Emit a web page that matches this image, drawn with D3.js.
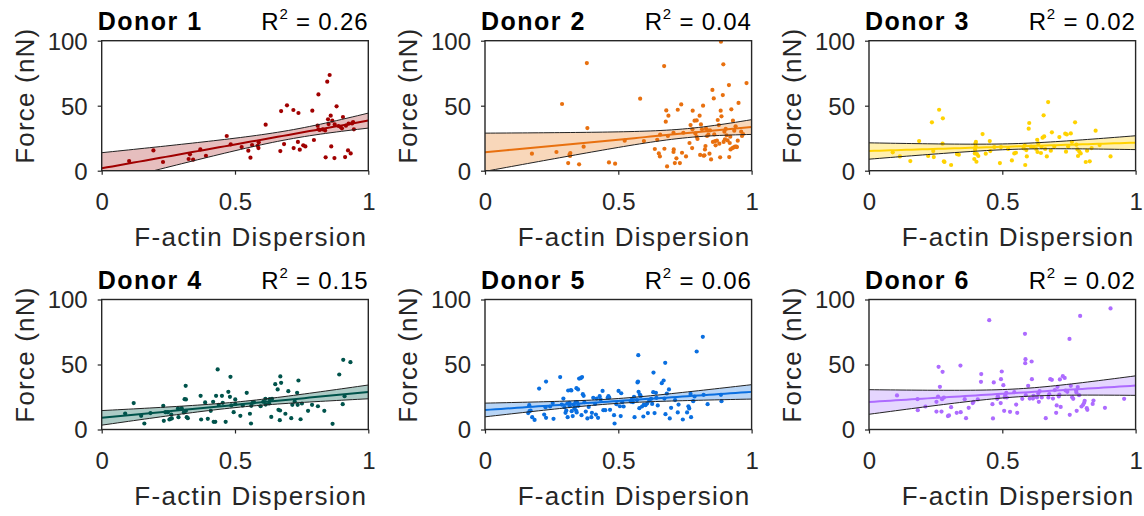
<!DOCTYPE html>
<html><head><meta charset="utf-8">
<script src="https://cdn.jsdelivr.net/npm/d3@7"></script>
<style>
body{margin:0;background:#fff}
svg{display:block}
text{font-family:"Liberation Sans",Arial,Helvetica,sans-serif}
</style>
</head><body>
<svg id="chart" width="1144" height="516"></svg>
<script>
// ---------------- data ----------------
const categories = ["Donor 1","Donor 2","Donor 3","Donor 4","Donor 5","Donor 6"];
const r2Labels = ["0.26","0.04","0.02","0.15","0.06","0.02"];
const xTicks = [0, 0.5, 1];
const xTickLabels = ["0","0.5","1"];
const yTicks = [0, 50, 100];
const yTickLabels = ["0","50","100"];
const xLabel = "F-actin Dispersion";
const yLabel = "Force (nN)";

const donor1X = [0.103,0.194,0.230,0.331,0.326,0.343,0.370,0.391,0.469,0.484,0.525,0.550,0.558,0.564,0.585,0.588,0.589,0.615,0.670,0.673,0.684,0.695,0.719,0.720,0.738,0.736,0.743,0.756,0.764,0.790,0.796,0.813,0.810,0.813,0.818,0.829,0.838,0.840,0.846,0.855,0.849,0.851,0.859,0.861,0.865,0.873,0.874,0.881,0.888,0.896,0.901,0.905,0.913,0.916,0.924,0.926,0.934,0.943,0.946,0.939];
const donor1Y = [7.4,15.6,6.7,12.6,9.0,8.5,16.4,11.5,26.7,20.3,18.2,15.4,10.0,19.7,19.2,17.4,21.8,35.4,15.1,45.9,20.5,50.3,46.7,17.4,44.4,22.1,16.2,19.5,18.7,46.2,23.6,58.7,34.6,31.8,31.3,31.8,31.0,10.3,68.5,73.6,39.5,35.9,42.3,18.7,38.5,9.7,35.6,49.5,34.4,33.6,32.6,41.3,10.5,34.6,15.6,36.2,13.3,37.4,31.8,36.4];

const donor2X = [0.176,0.268,0.289,0.312,0.317,0.320,0.319,0.353,0.370,0.382,0.384,0.465,0.488,0.524,0.582,0.596,0.637,0.646,0.657,0.652,0.656,0.672,0.673,0.678,0.680,0.683,0.686,0.688,0.707,0.708,0.707,0.712,0.718,0.723,0.731,0.736,0.739,0.744,0.754,0.767,0.771,0.777,0.779,0.778,0.786,0.789,0.794,0.794,0.797,0.805,0.807,0.810,0.814,0.818,0.820,0.823,0.825,0.827,0.829,0.833,0.835,0.838,0.842,0.844,0.848,0.853,0.855,0.858,0.860,0.863,0.865,0.870,0.873,0.877,0.879,0.882,0.884,0.885,0.887,0.892,0.894,0.895,0.898,0.900,0.903,0.906,0.910,0.915,0.916,0.918,0.920,0.921,0.924,0.928,0.930,0.933,0.935,0.938,0.940,0.943,0.945,0.948,0.951,0.961,0.964,0.968,0.981];
const donor2Y = [13.1,14.4,51.3,5.9,12.3,13.6,11.3,4.9,18.5,82.8,32.8,6.4,5.4,23.1,55.4,22.8,16.7,23.8,27.7,13.3,11.0,80.5,16.9,37.7,46.4,3.3,26.7,42.3,29.2,16.4,14.4,5.9,9.5,46.9,5.9,51.0,13.8,29.2,11.0,21.3,35.1,17.4,46.2,31.8,38.5,28.7,38.7,26.2,24.4,42.3,12.1,35.6,31.8,50.0,11.5,11.8,16.4,19.0,32.3,26.7,31.0,27.7,13.1,31.0,8.7,62.1,22.1,55.6,27.9,22.8,19.5,23.1,39.0,35.1,20.8,10.3,46.2,99.2,41.8,58.2,81.8,22.1,30.0,24.1,32.1,27.2,23.3,65.9,10.5,21.3,26.2,16.4,47.2,17.4,38.5,17.9,30.8,18.5,34.1,18.5,18.2,23.1,52.1,30.0,26.7,28.2,67.4];

const donor3X = [0.089,0.116,0.155,0.188,0.222,0.236,0.241,0.243,0.263,0.276,0.277,0.281,0.283,0.308,0.330,0.337,0.395,0.397,0.398,0.399,0.400,0.401,0.403,0.405,0.410,0.426,0.438,0.453,0.455,0.470,0.491,0.495,0.522,0.536,0.545,0.551,0.580,0.584,0.586,0.590,0.592,0.599,0.601,0.608,0.617,0.627,0.631,0.632,0.635,0.645,0.647,0.651,0.655,0.657,0.661,0.667,0.672,0.682,0.686,0.695,0.714,0.736,0.739,0.742,0.747,0.757,0.761,0.773,0.778,0.782,0.784,0.789,0.794,0.813,0.818,0.828,0.835,0.850,0.865,0.906];
const donor3Y = [14.1,11.0,7.4,22.8,11.3,37.2,15.1,10.5,46.9,20.8,40.3,7.2,6.7,4.4,12.8,12.3,9.0,13.3,16.2,20.8,18.7,22.1,6.9,12.8,11.3,28.2,13.1,22.8,15.1,18.2,5.9,18.2,16.7,7.9,13.3,13.8,17.2,19.5,4.4,15.9,11.0,32.3,36.7,18.5,18.2,16.7,23.8,14.4,21.0,13.6,18.2,25.4,42.6,26.4,16.7,11.0,52.8,15.4,29.5,18.5,25.9,28.5,14.6,27.9,18.7,28.7,22.1,37.2,20.0,16.4,11.3,14.6,13.3,6.7,15.4,7.2,17.4,30.8,19.7,11.0];

const donor4X = [0.088,0.120,0.148,0.160,0.183,0.231,0.233,0.239,0.248,0.254,0.258,0.261,0.263,0.286,0.288,0.300,0.308,0.311,0.316,0.315,0.316,0.319,0.323,0.371,0.373,0.388,0.398,0.409,0.418,0.420,0.426,0.429,0.435,0.439,0.451,0.454,0.465,0.475,0.481,0.483,0.486,0.495,0.501,0.501,0.520,0.529,0.544,0.556,0.560,0.561,0.566,0.571,0.596,0.606,0.614,0.615,0.628,0.630,0.636,0.639,0.651,0.660,0.663,0.668,0.669,0.670,0.673,0.689,0.700,0.711,0.715,0.724,0.733,0.735,0.738,0.746,0.751,0.774,0.789,0.811,0.835,0.866,0.891,0.904,0.906,0.911,0.933];
const donor4Y = [12.3,20.3,10.5,4.6,12.6,18.2,6.7,13.3,13.3,7.7,8.2,11.5,8.5,16.2,9.5,16.4,13.1,23.3,23.1,33.6,14.4,9.5,8.7,25.9,7.7,20.8,8.2,14.4,21.3,5.9,5.9,25.9,46.2,19.0,25.9,20.5,5.9,29.0,25.1,40.5,18.5,13.3,23.1,19.7,10.5,18.5,28.2,12.1,4.6,18.2,20.5,21.0,17.9,21.3,23.6,19.2,20.0,23.3,9.7,23.6,34.9,30.8,15.1,7.2,14.6,40.8,35.9,12.1,29.5,8.7,19.0,21.5,28.2,19.0,37.7,7.9,20.0,14.4,19.0,17.9,14.4,4.4,42.3,19.5,53.6,25.6,51.8];

const donor5X = [0.162,0.166,0.167,0.171,0.177,0.186,0.203,0.222,0.227,0.229,0.229,0.244,0.254,0.257,0.282,0.288,0.294,0.298,0.302,0.305,0.309,0.310,0.312,0.317,0.318,0.322,0.324,0.325,0.329,0.332,0.335,0.337,0.340,0.342,0.343,0.344,0.345,0.349,0.350,0.353,0.359,0.362,0.364,0.367,0.370,0.373,0.378,0.384,0.389,0.399,0.401,0.406,0.413,0.416,0.419,0.424,0.430,0.434,0.441,0.444,0.451,0.460,0.463,0.466,0.469,0.484,0.486,0.493,0.501,0.506,0.509,0.511,0.515,0.520,0.547,0.550,0.555,0.559,0.561,0.570,0.572,0.574,0.575,0.576,0.579,0.581,0.584,0.589,0.594,0.596,0.602,0.608,0.611,0.616,0.623,0.627,0.631,0.632,0.636,0.641,0.643,0.648,0.663,0.670,0.673,0.676,0.677,0.682,0.690,0.693,0.698,0.713,0.723,0.726,0.742,0.758,0.763,0.766,0.771,0.773,0.781,0.786,0.794,0.817,0.820,0.835,0.885,0.887];
const donor5Y = [12.6,18.7,14.1,14.6,9.5,7.4,31.5,11.5,17.2,9.0,36.9,17.7,20.3,8.2,40.3,19.2,23.8,17.2,12.8,14.6,20.0,9.5,30.0,20.5,17.9,30.3,30.0,14.1,10.3,19.2,15.9,17.2,21.0,14.4,31.8,13.1,21.0,30.8,18.2,39.2,39.5,11.0,40.3,27.2,25.9,21.0,13.8,8.5,17.4,9.5,12.8,24.4,19.7,11.5,23.8,9.0,25.6,23.1,29.7,14.9,14.9,24.4,25.6,24.6,15.1,11.0,4.6,19.5,29.7,17.9,10.3,27.9,21.0,17.7,21.5,22.8,21.0,25.1,9.5,22.6,36.2,36.9,57.2,29.0,16.4,26.9,25.6,17.7,10.0,19.2,18.7,20.0,12.6,22.1,23.6,19.7,28.7,43.8,12.6,28.2,24.4,18.5,35.6,37.7,23.8,51.3,11.8,27.7,30.8,8.5,16.7,22.6,13.1,19.2,7.7,13.1,17.9,16.2,27.4,9.5,21.8,25.4,60.0,71.3,26.7,19.5,26.7,21.8];

const donor6X = [0.105,0.182,0.183,0.212,0.253,0.253,0.259,0.261,0.266,0.272,0.274,0.276,0.281,0.296,0.300,0.308,0.329,0.343,0.344,0.359,0.364,0.374,0.389,0.392,0.408,0.420,0.421,0.451,0.463,0.465,0.468,0.481,0.483,0.484,0.494,0.495,0.498,0.504,0.507,0.509,0.511,0.515,0.517,0.529,0.545,0.552,0.556,0.575,0.585,0.586,0.587,0.588,0.597,0.603,0.610,0.611,0.615,0.617,0.630,0.635,0.637,0.640,0.648,0.663,0.673,0.676,0.680,0.686,0.690,0.697,0.702,0.704,0.707,0.712,0.714,0.716,0.719,0.727,0.734,0.737,0.744,0.752,0.753,0.757,0.762,0.766,0.777,0.778,0.779,0.783,0.788,0.792,0.797,0.803,0.807,0.809,0.817,0.819,0.839,0.842,0.885,0.906,0.957];
const donor6Y = [26.2,23.3,14.9,17.7,21.3,13.8,25.4,48.2,32.8,13.8,23.3,44.4,24.6,10.3,10.8,17.2,12.8,49.2,13.3,23.3,8.7,16.7,20.3,21.3,23.1,36.7,42.6,84.1,19.5,8.5,36.2,23.6,25.6,24.9,20.3,38.7,44.6,34.1,14.4,24.9,26.7,28.2,24.6,13.6,28.7,19.2,12.8,23.6,73.6,51.0,54.1,26.4,33.6,23.8,52.3,38.7,23.8,25.9,24.6,27.7,21.3,29.5,24.6,8.7,24.6,27.2,38.7,38.2,23.8,30.3,12.8,18.5,32.8,25.4,26.9,38.5,17.4,41.0,39.7,30.0,29.0,69.7,11.3,33.6,24.9,23.6,30.0,28.5,14.4,32.6,26.4,87.4,17.7,19.0,20.5,22.1,16.4,15.1,19.7,22.3,16.7,93.1,23.6];

const seriesX = [donor1X, donor2X, donor3X, donor4X, donor5X, donor6X];
const seriesY = [donor1Y, donor2Y, donor3Y, donor4Y, donor5Y, donor6Y];

// ---------------- styles / layout ----------------
const pointColors = ["#a00000","#e8700f","#ffd200","#00534b","#0a6fe0","#ad6bff"];
const bandColors  = ["#e6bebe","#f8d7ba","#fff0b0","#adcbc6","#b8d5f6","#e5d6ff"];
const colLeft = [101.7, 485, 869];
const rowTop = [40.7, 299.5];
const W = 266.6, H = 130;
const axisColor = "#262626";

const svg = d3.select("#chart");

function linfit(xs, ys){
  const n = xs.length;
  const mx = d3.mean(xs), my = d3.mean(ys);
  let sxx = 0, sxy = 0;
  for (let i=0;i<n;i++){ sxx += (xs[i]-mx)**2; sxy += (xs[i]-mx)*(ys[i]-my); }
  const b = sxy/sxx, a = my - b*mx;
  let sse = 0;
  for (let i=0;i<n;i++){ sse += (ys[i]-a-b*xs[i])**2; }
  const s = Math.sqrt(sse/(n-2));
  const df = n-2;
  const t = 1.96 + 2.37/df + 2.8/(df*df);
  return {a, b, mx, sxx, s, n, t};
}

categories.forEach((name, i) => {
  const col = i % 3, row = Math.floor(i/3);
  const g = svg.append("g").attr("transform", `translate(${colLeft[col]},${rowTop[row]})`);
  const x = d3.scaleLinear().domain([0,1]).range([0,W]);
  const y = d3.scaleLinear().domain([0,100]).range([H,0]);
  const xs = seriesX[i], ys = seriesY[i];
  const fit = linfit(xs, ys);
  const grid = d3.range(0, 1.0001, 0.02);
  const band = grid.map(v => {
    const yh = fit.a + fit.b*v;
    const se = fit.s*Math.sqrt(1/fit.n + (v-fit.mx)**2/fit.sxx);
    return {x:v, y:yh, lo:yh - fit.t*se, hi:yh + fit.t*se};
  });

  const clipId = "clip"+i;
  g.append("clipPath").attr("id", clipId).append("rect").attr("width", W).attr("height", H);
  const pg = g.append("g").attr("clip-path", `url(#${clipId})`);

  pg.append("path").datum(band)
    .attr("d", d3.area().x(d=>x(d.x)).y0(d=>y(d.lo)).y1(d=>y(d.hi)))
    .attr("fill", bandColors[i]);

  pg.selectAll("circle").data(xs.map((v,k)=>[v, ys[k]])).join("circle")
    .attr("cx", d=>x(d[0])).attr("cy", d=>y(d[1])).attr("r", 2.1)
    .attr("fill", pointColors[i]);

  ["lo","hi"].forEach(k => {
    pg.append("path").datum(band)
      .attr("d", d3.line().x(d=>x(d.x)).y(d=>y(d[k])))
      .attr("fill","none").attr("stroke","#222").attr("stroke-width",1);
  });
  pg.append("path").datum(band)
    .attr("d", d3.line().x(d=>x(d.x)).y(d=>y(d.y)))
    .attr("fill","none").attr("stroke", pointColors[i]).attr("stroke-width",2);

  // axes
  const xa = g.append("g").attr("transform", `translate(0,${H})`)
    .call(d3.axisBottom(x).tickValues(xTicks).tickSize(4).tickFormat((d,k)=>xTickLabels[k]));
  const ya = g.append("g")
    .call(d3.axisLeft(y).tickValues(yTicks).tickSize(4).tickFormat((d,k)=>yTickLabels[k]));
  [xa, ya].forEach(a => {
    a.select(".domain").remove();
    a.selectAll(".tick line").attr("stroke", axisColor).attr("stroke-width",1.2);
    a.selectAll(".tick text").attr("fill", axisColor).style("font-size","24px")
      .style("font-family",'"Liberation Sans",Arial,sans-serif');
  });
  xa.selectAll(".tick text").attr("y", 39).attr("dy", 0);
  ya.selectAll(".tick text").attr("x", -14).attr("dy", "0.35em");

  g.append("rect").attr("width", W).attr("height", H)
    .attr("fill","none").attr("stroke", axisColor).attr("stroke-width",1.4);

  // labels
  g.append("text").attr("x", W - 1).attr("y", H + 75)
    .attr("text-anchor","end").attr("fill", axisColor)
    .style("font-size","26px").style("letter-spacing","1.3px").text(xLabel);
  g.append("text").attr("transform", `translate(-68,${H/2 - 10}) rotate(-90)`)
    .attr("text-anchor","middle").attr("fill", axisColor)
    .style("font-size","26px").style("letter-spacing","1.2px").text(yLabel);

  g.append("text").attr("x", -4).attr("y", -11)
    .attr("fill","#000").style("font-size","25px").style("font-weight","bold")
    .style("letter-spacing","1.5px").text(name);
  const r2 = g.append("text").attr("x", W).attr("y", -11).attr("text-anchor","end")
    .attr("fill","#000").style("font-size","24px").style("letter-spacing","0.8px");
  r2.append("tspan").text("R");
  r2.append("tspan").attr("dy", -11).style("font-size","15px").text("2");
  r2.append("tspan").attr("dy", 11).text(" = " + r2Labels[i]);
});
</script>
</body></html>
